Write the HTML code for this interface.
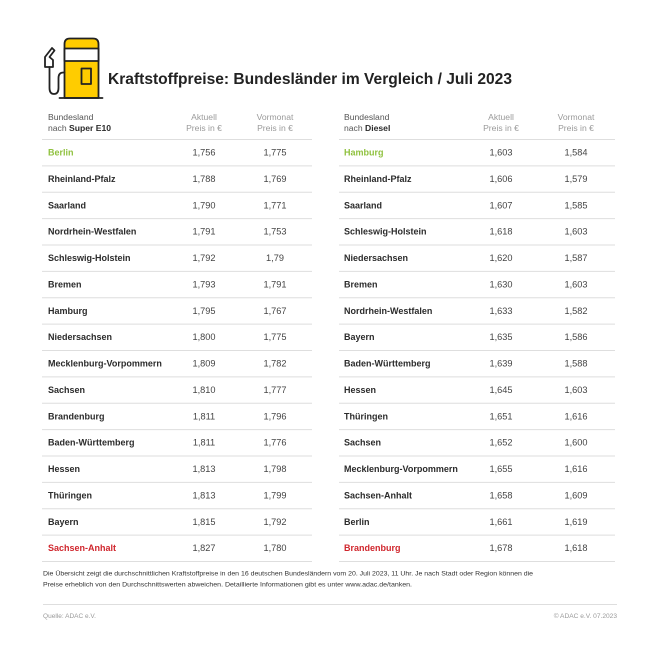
<!DOCTYPE html>
<html lang="de">
<head>
<meta charset="utf-8">
<style>
  html,body{margin:0;padding:0;background:#fff;}
  svg{display:block;}
  text{font-family:"Liberation Sans",Arial,sans-serif;}
  .nm{font-weight:bold;font-size:9px;fill:#2b2b2b;}
  .num{font-size:9.2px;fill:#444;text-anchor:middle;}
  .hd{font-size:8.6px;fill:#555;}
  .hdl{font-size:8.6px;fill:#9a9a9a;text-anchor:middle;}
  .ft{font-size:6.8px;fill:#333;}
  .src{font-size:6.6px;fill:#999;}
  .ln{stroke:#dedede;stroke-width:1;}
</style>
</head>
<body>
<svg width="650" height="646" viewBox="0 0 650 646" xmlns="http://www.w3.org/2000/svg">
  <rect width="650" height="646" fill="#fff"/>

  <!-- Icon -->
  <g stroke="#222" stroke-width="1.8" fill="none" stroke-linejoin="round" stroke-linecap="round">
    <path d="M64.5,98 V44 Q64.5,38.5 70,38.5 H93 Q98.5,38.5 98.5,44 V98 Z" fill="#FFCC00"/>
    <rect x="64.5" y="48.5" width="34" height="12.5" fill="#fff"/>
    <rect x="81.5" y="68.5" width="9.5" height="15.5" fill="#FFCC00"/>
    <line x1="59.5" y1="98" x2="102.5" y2="98"/>
    <path d="M45,67 V57 L52,48 L54.5,50.5 L49.5,57 L53,60 V67 Z" fill="#fff"/>
    <path d="M49.5,67 V88 Q49.5,94 54,94 Q58.5,94 58.5,88 V78 Q58.5,72.5 63.5,72.5 H64.5"/>
  </g>

  <!-- Title -->
  <text x="108" y="84" font-size="16" font-weight="bold" fill="#222" textLength="404" lengthAdjust="spacingAndGlyphs">Kraftstoffpreise: Bundesländer im Vergleich / Juli 2023</text>

  <!-- Left header -->
  <text class="hd" x="48" y="120">Bundesland</text>
  <text class="hd" x="48" y="131">nach <tspan font-weight="bold" fill="#2b2b2b">Super E10</tspan></text>
  <text class="hdl" x="204" y="120">Aktuell</text>
  <text class="hdl" x="204" y="131">Preis in €</text>
  <text class="hdl" x="275" y="120">Vormonat</text>
  <text class="hdl" x="275" y="131">Preis in €</text>

  <!-- Right header -->
  <text class="hd" x="344" y="120">Bundesland</text>
  <text class="hd" x="344" y="131">nach <tspan font-weight="bold" fill="#2b2b2b">Diesel</tspan></text>
  <text class="hdl" x="501" y="120">Aktuell</text>
  <text class="hdl" x="501" y="131">Preis in €</text>
  <text class="hdl" x="576" y="120">Vormonat</text>
  <text class="hdl" x="576" y="131">Preis in €</text>

  <!-- Lines -->
  <g class="ln">
    <line x1="42" x2="312" y1="139.5" y2="139.5"/>
    <line x1="42" x2="312" y1="165.9" y2="165.9"/>
    <line x1="42" x2="312" y1="192.3" y2="192.3"/>
    <line x1="42" x2="312" y1="218.6" y2="218.6"/>
    <line x1="42" x2="312" y1="245.0" y2="245.0"/>
    <line x1="42" x2="312" y1="271.4" y2="271.4"/>
    <line x1="42" x2="312" y1="297.8" y2="297.8"/>
    <line x1="42" x2="312" y1="324.1" y2="324.1"/>
    <line x1="42" x2="312" y1="350.5" y2="350.5"/>
    <line x1="42" x2="312" y1="376.9" y2="376.9"/>
    <line x1="42" x2="312" y1="403.3" y2="403.3"/>
    <line x1="42" x2="312" y1="429.6" y2="429.6"/>
    <line x1="42" x2="312" y1="456.0" y2="456.0"/>
    <line x1="42" x2="312" y1="482.4" y2="482.4"/>
    <line x1="42" x2="312" y1="508.8" y2="508.8"/>
    <line x1="42" x2="312" y1="535.1" y2="535.1"/>
    <line x1="42" x2="312" y1="561.5" y2="561.5"/>

    <line x1="339" x2="615" y1="139.5" y2="139.5"/>
    <line x1="339" x2="615" y1="165.9" y2="165.9"/>
    <line x1="339" x2="615" y1="192.3" y2="192.3"/>
    <line x1="339" x2="615" y1="218.6" y2="218.6"/>
    <line x1="339" x2="615" y1="245.0" y2="245.0"/>
    <line x1="339" x2="615" y1="271.4" y2="271.4"/>
    <line x1="339" x2="615" y1="297.8" y2="297.8"/>
    <line x1="339" x2="615" y1="324.1" y2="324.1"/>
    <line x1="339" x2="615" y1="350.5" y2="350.5"/>
    <line x1="339" x2="615" y1="376.9" y2="376.9"/>
    <line x1="339" x2="615" y1="403.3" y2="403.3"/>
    <line x1="339" x2="615" y1="429.6" y2="429.6"/>
    <line x1="339" x2="615" y1="456.0" y2="456.0"/>
    <line x1="339" x2="615" y1="482.4" y2="482.4"/>
    <line x1="339" x2="615" y1="508.8" y2="508.8"/>
    <line x1="339" x2="615" y1="535.1" y2="535.1"/>
    <line x1="339" x2="615" y1="561.5" y2="561.5"/>

    <line x1="43" x2="617" y1="604.5" y2="604.5"/>
  </g>

  <!-- Left rows -->
  <g>
    <text class="nm" x="48" y="155.5" style="fill:#8fc13e">Berlin</text><text class="num" x="204" y="155.5">1,756</text><text class="num" x="275" y="155.5">1,775</text>
    <text class="nm" x="48" y="181.9">Rheinland-Pfalz</text><text class="num" x="204" y="181.9">1,788</text><text class="num" x="275" y="181.9">1,769</text>
    <text class="nm" x="48" y="208.3">Saarland</text><text class="num" x="204" y="208.3">1,790</text><text class="num" x="275" y="208.3">1,771</text>
    <text class="nm" x="48" y="234.6">Nordrhein-Westfalen</text><text class="num" x="204" y="234.6">1,791</text><text class="num" x="275" y="234.6">1,753</text>
    <text class="nm" x="48" y="261.0">Schleswig-Holstein</text><text class="num" x="204" y="261.0">1,792</text><text class="num" x="275" y="261.0">1,79</text>
    <text class="nm" x="48" y="287.4">Bremen</text><text class="num" x="204" y="287.4">1,793</text><text class="num" x="275" y="287.4">1,791</text>
    <text class="nm" x="48" y="313.8">Hamburg</text><text class="num" x="204" y="313.8">1,795</text><text class="num" x="275" y="313.8">1,767</text>
    <text class="nm" x="48" y="340.1">Niedersachsen</text><text class="num" x="204" y="340.1">1,800</text><text class="num" x="275" y="340.1">1,775</text>
    <text class="nm" x="48" y="366.5">Mecklenburg-Vorpommern</text><text class="num" x="204" y="366.5">1,809</text><text class="num" x="275" y="366.5">1,782</text>
    <text class="nm" x="48" y="392.9">Sachsen</text><text class="num" x="204" y="392.9">1,810</text><text class="num" x="275" y="392.9">1,777</text>
    <text class="nm" x="48" y="419.3">Brandenburg</text><text class="num" x="204" y="419.3">1,811</text><text class="num" x="275" y="419.3">1,796</text>
    <text class="nm" x="48" y="445.6">Baden-Württemberg</text><text class="num" x="204" y="445.6">1,811</text><text class="num" x="275" y="445.6">1,776</text>
    <text class="nm" x="48" y="472.0">Hessen</text><text class="num" x="204" y="472.0">1,813</text><text class="num" x="275" y="472.0">1,798</text>
    <text class="nm" x="48" y="498.4">Thüringen</text><text class="num" x="204" y="498.4">1,813</text><text class="num" x="275" y="498.4">1,799</text>
    <text class="nm" x="48" y="524.8">Bayern</text><text class="num" x="204" y="524.8">1,815</text><text class="num" x="275" y="524.8">1,792</text>
    <text class="nm" x="48" y="551.1" style="fill:#d0262d">Sachsen-Anhalt</text><text class="num" x="204" y="551.1">1,827</text><text class="num" x="275" y="551.1">1,780</text>
  </g>

  <!-- Right rows -->
  <g>
    <text class="nm" x="344" y="155.5" style="fill:#8fc13e">Hamburg</text><text class="num" x="501" y="155.5">1,603</text><text class="num" x="576" y="155.5">1,584</text>
    <text class="nm" x="344" y="181.9">Rheinland-Pfalz</text><text class="num" x="501" y="181.9">1,606</text><text class="num" x="576" y="181.9">1,579</text>
    <text class="nm" x="344" y="208.3">Saarland</text><text class="num" x="501" y="208.3">1,607</text><text class="num" x="576" y="208.3">1,585</text>
    <text class="nm" x="344" y="234.6">Schleswig-Holstein</text><text class="num" x="501" y="234.6">1,618</text><text class="num" x="576" y="234.6">1,603</text>
    <text class="nm" x="344" y="261.0">Niedersachsen</text><text class="num" x="501" y="261.0">1,620</text><text class="num" x="576" y="261.0">1,587</text>
    <text class="nm" x="344" y="287.4">Bremen</text><text class="num" x="501" y="287.4">1,630</text><text class="num" x="576" y="287.4">1,603</text>
    <text class="nm" x="344" y="313.8">Nordrhein-Westfalen</text><text class="num" x="501" y="313.8">1,633</text><text class="num" x="576" y="313.8">1,582</text>
    <text class="nm" x="344" y="340.1">Bayern</text><text class="num" x="501" y="340.1">1,635</text><text class="num" x="576" y="340.1">1,586</text>
    <text class="nm" x="344" y="366.5">Baden-Württemberg</text><text class="num" x="501" y="366.5">1,639</text><text class="num" x="576" y="366.5">1,588</text>
    <text class="nm" x="344" y="392.9">Hessen</text><text class="num" x="501" y="392.9">1,645</text><text class="num" x="576" y="392.9">1,603</text>
    <text class="nm" x="344" y="419.3">Thüringen</text><text class="num" x="501" y="419.3">1,651</text><text class="num" x="576" y="419.3">1,616</text>
    <text class="nm" x="344" y="445.6">Sachsen</text><text class="num" x="501" y="445.6">1,652</text><text class="num" x="576" y="445.6">1,600</text>
    <text class="nm" x="344" y="472.0">Mecklenburg-Vorpommern</text><text class="num" x="501" y="472.0">1,655</text><text class="num" x="576" y="472.0">1,616</text>
    <text class="nm" x="344" y="498.4">Sachsen-Anhalt</text><text class="num" x="501" y="498.4">1,658</text><text class="num" x="576" y="498.4">1,609</text>
    <text class="nm" x="344" y="524.8">Berlin</text><text class="num" x="501" y="524.8">1,661</text><text class="num" x="576" y="524.8">1,619</text>
    <text class="nm" x="344" y="551.1" style="fill:#d0262d">Brandenburg</text><text class="num" x="501" y="551.1">1,678</text><text class="num" x="576" y="551.1">1,618</text>
  </g>

  <!-- Footnote -->
  <text class="ft" x="43" y="575.5" textLength="490" lengthAdjust="spacingAndGlyphs">Die Übersicht zeigt die durchschnittlichen Kraftstoffpreise in den 16 deutschen Bundesländern vom 20. Juli 2023, 11 Uhr. Je nach Stadt oder Region können die</text>
  <text class="ft" x="43" y="586.5" textLength="369" lengthAdjust="spacingAndGlyphs">Preise erheblich von den Durchschnittswerten abweichen. Detaillierte Informationen gibt es unter www.adac.de/tanken.</text>

  <text class="src" x="43" y="618" textLength="53" lengthAdjust="spacingAndGlyphs">Quelle: ADAC e.V.</text>
  <text class="src" x="617" y="618" text-anchor="end">© ADAC e.V. 07.2023</text>
</svg>
</body>
</html>
